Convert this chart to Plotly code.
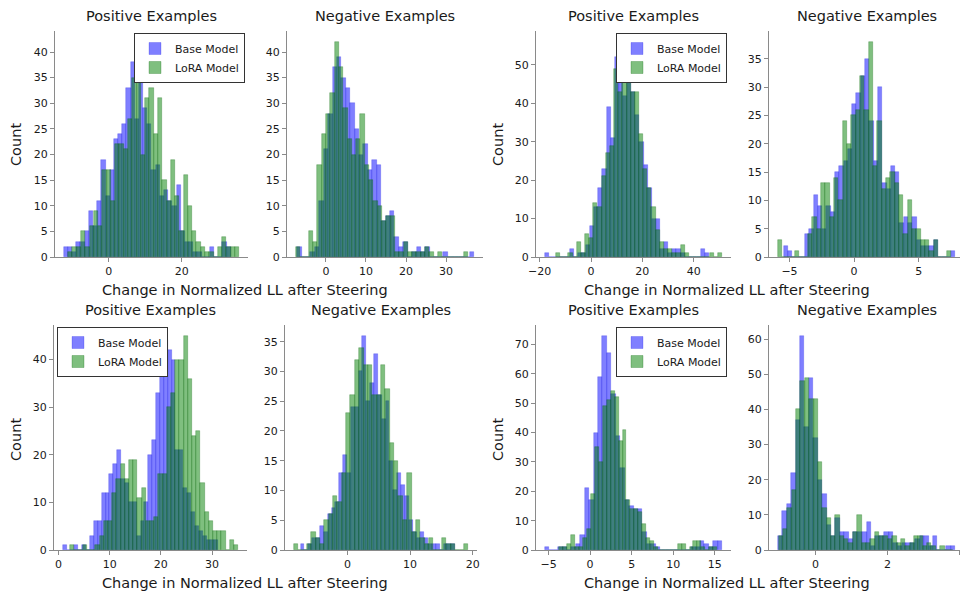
import plotly.graph_objects as go

# ---------------- data (histogram counts, 40 bins each; ranges = (first edge, last edge)) -------------
P1_BASE_RANGE = (-12.3, 33.4)
P1_BASE = [2,2,1,3,3,5,9,6,11,19,12,17,23,24,26,33,38,27,35,29,26,17,18,12,13,11,10,14,5,3,3,1,1,0,0,2,0,0,3,2]
P1_LORA_RANGE = (-11.1, 35.7)
P1_LORA = [1,2,2,5,2,6,9,6,17,17,11,22,22,21,27,35,42,20,31,33,24,31,15,11,19,12,5,16,10,5,3,2,1,1,0,2,4,2,2,2]

P2_BASE_RANGE = (-7.2, 37.0)
P2_BASE = [2,0,0,1,2,11,21,28,37,39,35,33,30,25,20,22,17,19,18,7,8,9,4,2,3,0,1,2,1,2,0,0,0,1,0,0,0,0,0,1]
P2_LORA_RANGE = (-7.5, 35.5)
P2_LORA = [2,0,0,5,3,18,24,28,32,42,37,29,23,20,23,28,18,15,11,10,7,8,8,1,1,3,1,1,1,1,2,1,0,1,0,0,0,0,0,1]

P3_BASE_RANGE = (-18.0, 46.1)
P3_BASE = [1,0,0,0,0,0,2,0,1,1,3,8,13,18,23,39,31,52,52,42,56,43,37,30,24,18,10,10,2,4,1,2,2,1,0,0,0,0,2,1]
P3_LORA_RANGE = (-13.7, 51.1)
P3_LORA = [1,0,0,1,0,4,1,6,5,14,13,21,27,29,49,43,52,46,43,43,32,23,18,13,7,4,2,2,1,1,3,1,0,0,0,0,0,1,0,1]

P4_BASE_RANGE = (-5.46, 7.82)
P4_BASE = [2,1,0,0,0,4,5,11,9,5,9,8,15,16,17,19,27,29,32,35,24,17,30,13,12,16,15,6,7,6,7,3,2,2,2,3,0,0,0,1]
P4_LORA_RANGE = (-5.9, 7.49)
P4_LORA = [3,0,0,0,1,0,0,4,7,5,13,13,7,14,10,24,20,25,26,32,26,38,16,24,12,14,15,13,11,4,10,5,5,3,3,1,3,0,0,1]

P5_BASE_RANGE = (0.85, 31.2)
P5_BASE = [1,0,0,1,0,1,0,3,6,6,12,12,16,18,21,15,14,10,10,3,6,10,20,23,33,39,44,42,40,21,21,13,12,8,5,4,3,2,2,2]
P5_LORA_RANGE = (2.3, 35.1)
P5_LORA = [1,0,0,1,0,0,1,3,6,6,12,15,18,15,19,19,11,13,6,6,7,16,16,30,33,40,40,45,36,24,25,14,8,6,4,4,4,0,2,1]

P6_BASE_RANGE = (-7.5, 17.2)
P6_BASE = [1,0,1,2,2,4,3,6,7,8,13,16,13,24,24,30,36,25,28,33,26,22,25,15,10,13,11,9,5,3,2,3,2,1,1,1,0,1,1,1]
P6_LORA_RANGE = (-8.6, 19.3)
P6_LORA = [1,0,0,1,3,2,1,5,6,9,8,13,23,26,32,34,31,31,26,26,31,27,18,15,9,5,13,3,5,2,1,2,0,0,2,1,1,0,0,1]

P7_BASE_RANGE = (-5.45, 15.9)
P7_BASE = [1,0,0,1,1,0,1,2,5,21,17,40,59,73,67,53,39,28,17,15,14,14,6,2,2,1,0,0,0,0,0,0,0,1,1,3,2,1,3,3]
P7_LORA_RANGE = (-3.7, 15.3)
P7_LORA = [1,1,2,5,1,1,4,7,19,35,30,49,51,54,52,37,41,17,14,14,13,9,4,3,1,0,0,0,0,0,2,2,0,1,3,3,1,0,1,1]

P8_BASE_RANGE = (-1.05, 3.88)
P8_BASE = [4,11,13,22,37,61,35,49,32,20,16,7,4,9,5,5,3,5,5,5,8,1,4,4,5,5,2,1,2,2,2,3,4,4,1,4,0,0,1,1]
P8_LORA_RANGE = (-1.03, 3.83)
P8_LORA = [4,6,12,17,40,48,49,43,43,25,12,9,4,10,4,3,2,5,10,2,2,3,5,4,4,3,4,2,3,1,2,4,4,1,2,1,0,1,0,0]

TITLES = ["Positive Examples", "Negative Examples"] * 4
SERIES_NAMES = ["Base Model", "LoRA Model"]
XLABEL = "Change in Normalized LL after Steering"
YLABEL = "Count"

# ---------------- layout / style ----------------
W, H = 960, 592
FONT = "DejaVu Sans"
BLUE = "rgba(0,0,255,0.5)"
GREEN = "rgba(0,128,0,0.5)"
BLUE_EDGE = "rgba(0,0,220,0.35)"
GREEN_EDGE = "rgba(0,100,0,0.45)"
AXC = "#8a8a8a"
TXT = "#1a1a1a"

# pixel boxes of the full axes: (x0, x1, ytop, ybottom); right column is clipped by the canvas edge
BOXES = [
    (55, 248, 31, 257), (287, 483, 31, 257), (536, 731, 31, 257), (769, 964, 31, 257),
    (54, 247, 325, 550), (285, 477, 325, 550), (536, 731, 325, 550), (769, 964, 325, 550),
]
XDT = [20, 10, 20, 5, 10, 10, 5, 2]
YDT = [5, 5, 10, 5, 10, 5, 10, 10]
LEG = {0: ("legend", 245, 33, "right"), 2: ("legend2", 727, 33, "right"),
       4: ("legend3", 57, 327, "left"), 6: ("legend4", 727, 327, "right")}

panels = [
    (P1_BASE_RANGE, P1_BASE, P1_LORA_RANGE, P1_LORA),
    (P2_BASE_RANGE, P2_BASE, P2_LORA_RANGE, P2_LORA),
    (P3_BASE_RANGE, P3_BASE, P3_LORA_RANGE, P3_LORA),
    (P4_BASE_RANGE, P4_BASE, P4_LORA_RANGE, P4_LORA),
    (P5_BASE_RANGE, P5_BASE, P5_LORA_RANGE, P5_LORA),
    (P6_BASE_RANGE, P6_BASE, P6_LORA_RANGE, P6_LORA),
    (P7_BASE_RANGE, P7_BASE, P7_LORA_RANGE, P7_LORA),
    (P8_BASE_RANGE, P8_BASE, P8_LORA_RANGE, P8_LORA),
]


def bins(rng, counts):
    lo, hi = rng
    w = (hi - lo) / len(counts)
    return [lo + w * (i + 0.5) for i in range(len(counts))], w


fig = go.Figure()
layout = dict(
    width=W, height=H, margin=dict(l=0, r=0, t=0, b=0, autoexpand=False),
    paper_bgcolor="white", plot_bgcolor="white",
    barmode="overlay", bargap=0,
    font=dict(family=FONT, color=TXT, size=11),
    annotations=[],
)

for i, (brng, bcnt, lrng, lcnt) in enumerate(panels):
    k = "" if i == 0 else str(i + 1)
    x0, x1, yt, yb = BOXES[i]
    leg = LEG.get(i)
    for name, rng, cnt, col, edge in ((SERIES_NAMES[0], brng, bcnt, BLUE, BLUE_EDGE),
                                      (SERIES_NAMES[1], lrng, lcnt, GREEN, GREEN_EDGE)):
        xs, w = bins(rng, cnt)
        fig.add_trace(go.Bar(
            x=xs, y=cnt, width=[w] * len(cnt), name=name,
            marker=dict(color=col, line=dict(width=0.6, color=edge)),
            xaxis="x" + k, yaxis="y" + k,
            showlegend=leg is not None,
            legend=leg[0] if leg else "legend",
            hoverinfo="skip",
        ))
    # matplotlib-like 5% margins
    dlo = min(brng[0], lrng[0])
    dhi = max(brng[1], lrng[1])
    pad = 0.05 * (dhi - dlo)
    rlo, rhi = dlo - pad, dhi + pad
    xe = min(x1, W)
    rhi_vis = rlo + (rhi - rlo) * (xe - x0) / (x1 - x0)
    ymax = max(max(bcnt), max(lcnt)) * 1.05
    common = dict(showline=True, linecolor=AXC, linewidth=1, ticks="outside", ticklen=4,
                  tickwidth=1, tickcolor=AXC, showgrid=False, zeroline=False, automargin=False,
                  tickfont=dict(size=11, color=TXT, family=FONT))
    layout["xaxis" + k] = dict(domain=[x0 / W, xe / W], range=[rlo, rhi_vis], dtick=XDT[i], tick0=0,
                               anchor="y" + k, **common)
    layout["yaxis" + k] = dict(domain=[1 - yb / H, 1 - yt / H], range=[0, ymax], dtick=YDT[i], tick0=0,
                               anchor="x" + k, **common)
    # subplot title (centred on the full axes width)
    layout["annotations"].append(dict(
        text=TITLES[i], x=(x0 + x1) / 2 / W,
        y=1 - (yt - 15) / H, xref="paper", yref="paper", xanchor="center", yanchor="middle",
        showarrow=False, font=dict(size=14.5, family=FONT, color=TXT)))
    if leg:
        lname, lx, ly, anc = leg
        layout[lname] = dict(
            x=lx / W, y=1 - ly / H, xanchor=anc, yanchor="top",
            bgcolor="white", bordercolor="#333", borderwidth=1,
            font=dict(size=11, family=FONT, color=TXT), tracegroupgap=0, itemwidth=30,
        )

# shared axis labels
for cx, cy in ((245, 290), (727, 290), (245, 583), (727, 583)):
    layout["annotations"].append(dict(text=XLABEL, x=cx / W, y=1 - cy / H, xref="paper", yref="paper",
                                      xanchor="center", yanchor="middle", showarrow=False,
                                      font=dict(size=14.5, family=FONT, color=TXT)))
for cx, cy in ((16, 145), (498, 145), (16, 440), (498, 440)):
    layout["annotations"].append(dict(text=YLABEL, x=cx / W, y=1 - cy / H, xref="paper", yref="paper",
                                      xanchor="center", yanchor="middle", textangle=-90, showarrow=False,
                                      font=dict(size=14.5, family=FONT, color=TXT)))

fig.update_layout(**layout)
fig.write_html("out.html", config={"displayModeBar": False},
               post_script="document.body.style.margin='0';document.body.style.overflow='hidden';")
